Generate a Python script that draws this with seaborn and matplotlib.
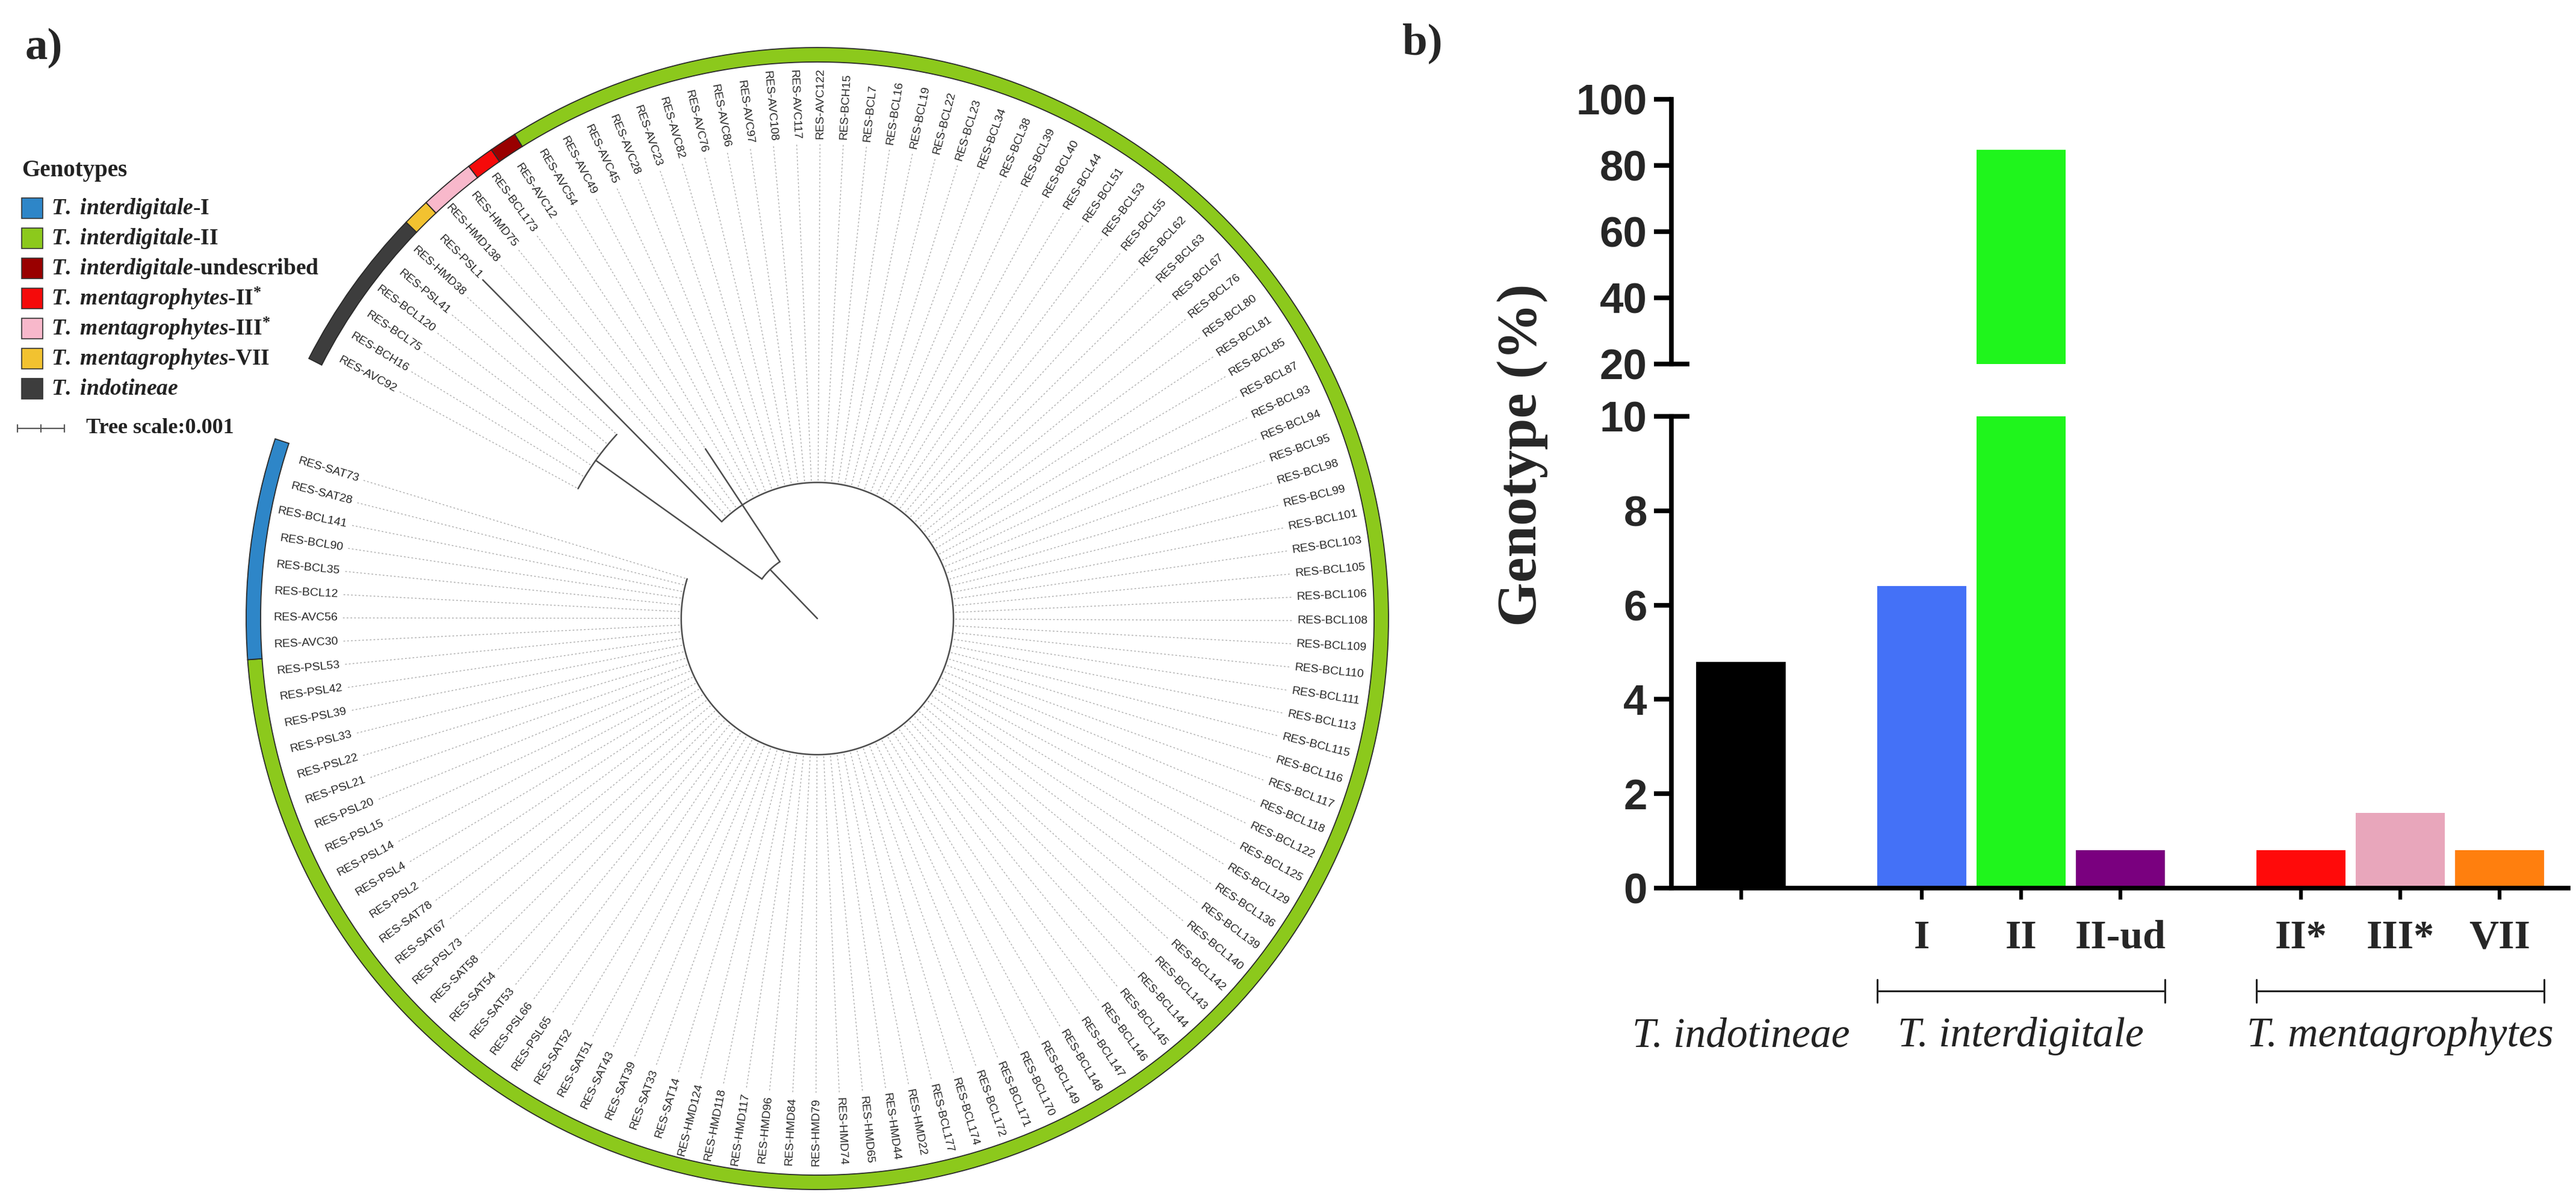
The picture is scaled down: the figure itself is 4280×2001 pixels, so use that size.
import numpy as np
import pandas as pd
import seaborn as sns
import matplotlib.pyplot as plt
from matplotlib.patches import Rectangle

# ---------------- data: tree leaves (clockwise from the gap at upper left) ----------------
indotineae_leaves = ['RES-AVC92', 'RES-BCH16', 'RES-BCL75', 'RES-BCL120', 'RES-PSL41', 'RES-HMD38']
ment_vii_leaves = ['RES-PSL1']
ment_iii_leaves = ['RES-HMD138', 'RES-HMD75']
ment_ii_leaves = ['RES-BCL173']
inter_ud_leaves = ['RES-AVC12']
inter_ii_leaves = [
    'RES-AVC54', 'RES-AVC49', 'RES-AVC45', 'RES-AVC28', 'RES-AVC23', 'RES-AVC82', 'RES-AVC76',
    'RES-AVC86', 'RES-AVC97', 'RES-AVC108', 'RES-AVC117', 'RES-AVC122', 'RES-BCH15', 'RES-BCL7',
    'RES-BCL16', 'RES-BCL19', 'RES-BCL22', 'RES-BCL23', 'RES-BCL34', 'RES-BCL38', 'RES-BCL39',
    'RES-BCL40', 'RES-BCL44', 'RES-BCL51', 'RES-BCL53', 'RES-BCL55', 'RES-BCL62', 'RES-BCL63',
    'RES-BCL67', 'RES-BCL76', 'RES-BCL80', 'RES-BCL81', 'RES-BCL85', 'RES-BCL87', 'RES-BCL93',
    'RES-BCL94', 'RES-BCL95', 'RES-BCL98', 'RES-BCL99', 'RES-BCL101', 'RES-BCL103', 'RES-BCL105',
    'RES-BCL106', 'RES-BCL108', 'RES-BCL109', 'RES-BCL110', 'RES-BCL111', 'RES-BCL113', 'RES-BCL115',
    'RES-BCL116', 'RES-BCL117', 'RES-BCL118', 'RES-BCL122', 'RES-BCL125', 'RES-BCL129', 'RES-BCL136',
    'RES-BCL139', 'RES-BCL140', 'RES-BCL142', 'RES-BCL143', 'RES-BCL144', 'RES-BCL145', 'RES-BCL146',
    'RES-BCL147', 'RES-BCL148', 'RES-BCL149', 'RES-BCL170', 'RES-BCL171', 'RES-BCL172', 'RES-BCL174',
    'RES-BCL177', 'RES-HMD22', 'RES-HMD44', 'RES-HMD65', 'RES-HMD74', 'RES-HMD79', 'RES-HMD84',
    'RES-HMD96', 'RES-HMD117', 'RES-HMD118', 'RES-HMD124', 'RES-SAT14', 'RES-SAT33', 'RES-SAT39',
    'RES-SAT43', 'RES-SAT51', 'RES-SAT52', 'RES-PSL65', 'RES-PSL66', 'RES-SAT53', 'RES-SAT54',
    'RES-SAT58', 'RES-PSL73', 'RES-SAT67', 'RES-SAT78', 'RES-PSL2', 'RES-PSL4', 'RES-PSL14',
    'RES-PSL15', 'RES-PSL20', 'RES-PSL21', 'RES-PSL22', 'RES-PSL33', 'RES-PSL39', 'RES-PSL42',
    'RES-PSL53']
inter_i_leaves = ['RES-AVC30', 'RES-AVC56', 'RES-BCL12', 'RES-BCL35', 'RES-BCL90', 'RES-BCL141',
                  'RES-SAT28', 'RES-SAT73']

# node depths (substitutions / site)
depth_A = 0.00145       # root -> first split
depth_C = 0.0029        # T. interdigitale + mentagrophytes node
depth_B = 0.0058        # T. indotineae node
depth_AVC12 = 0.00433   # undescribed leaf tip

# legend
legend_labels = [r'$T.\ interdigitale$-I', r'$T.\ interdigitale$-II', r'$T.\ interdigitale$-undescribed',
                 r'$T.\ mentagrophytes$-II$^{*}$', r'$T.\ mentagrophytes$-III$^{*}$',
                 r'$T.\ mentagrophytes$-VII', r'$T.\ indotineae$']
legend_colors = ['#2e86c8', '#8cc91c', '#990000', '#f50a0a', '#f8b8cb', '#f2c230', '#3d3d3d']

# ---------------- data: bar chart ----------------
bar_species = ['T. indotineae', 'T. interdigitale', 'T. interdigitale', 'T. interdigitale',
               'T. mentagrophytes', 'T. mentagrophytes', 'T. mentagrophytes']
bar_genotype = ['', 'I', 'II', 'II-ud', 'II*', 'III*', 'VII']
genotype_pct = [4.8, 6.4, 84.8, 0.8, 0.8, 1.6, 0.8]
bar_colors = ['#000000', '#4471f7', '#1ff51c', '#7a007f', '#ff0a0a', '#e8a6bb', '#ff7f0e']

# ---------------- style ----------------
sns.set_theme(style='white')
plt.rcParams['font.family'] = ['Liberation Sans', 'DejaVu Sans']
plt.rcParams['mathtext.fontset'] = 'custom'
plt.rcParams['mathtext.it'] = 'Liberation Serif:italic:bold'
plt.rcParams['mathtext.rm'] = 'Liberation Serif:bold'
plt.rcParams['mathtext.bf'] = 'Liberation Serif:bold'

W, H = 4280, 2001
fig = plt.figure(figsize=(W / 100, H / 100), dpi=100)
fig.patch.set_facecolor('white')


def fx(x):
    return x / W


def fy(y):
    return 1 - y / H


# ================= a) circular tree =================
cx, cy, R = 1358, 1028, 960
ax_t = fig.add_axes([fx(cx - R), fy(cy + R), 2 * R / W, 2 * R / H], projection='polar')
ax_t.set_ylim(0, R)
ax_t.axis('off')

groups = [(indotineae_leaves, legend_colors[6]), (ment_vii_leaves, legend_colors[5]),
          (ment_iii_leaves, legend_colors[4]), (ment_ii_leaves, legend_colors[3]),
          (inter_ud_leaves, legend_colors[2]), (inter_ii_leaves, legend_colors[1]),
          (inter_i_leaves, legend_colors[0])]
leaves = [l for g, _ in groups for l in g]
n = len(leaves)

theta0, step = 151.5, 2.81
ang = theta0 - step * np.arange(n)
px_per_unit = 78 / 0.001
r_lab = 797
r_ring, ring_w = 925, 24

r_A = depth_A * px_per_unit
r_B = depth_B * px_per_unit
r_C = depth_C * px_per_unit
r_12 = depth_AVC12 * px_per_unit

i_psl1 = leaves.index('RES-PSL1')
i_avc12 = leaves.index('RES-AVC12')
n_ind = len(indotineae_leaves)

tips = np.full(n, r_C)
tips[:n_ind] = r_B
tips[i_psl1] = r_lab - 6
tips[i_avc12] = r_12

# dotted alignment lines + labels
for i, (a, name) in enumerate(zip(ang, leaves)):
    th = np.radians(a)
    if tips[i] < r_lab - 10:
        ax_t.plot([th, th], [tips[i] + 3, r_lab - 6], color='#ababab', lw=1.0,
                  ls=(0, (2, 2.5)))
    na = (a + 180) % 360 - 180
    if -90 <= na <= 90:
        rot, ha = na, 'left'
    else:
        rot, ha = (na - 180 if na > 0 else na + 180), 'right'
    ax_t.text(th, r_lab, name, rotation=rot, rotation_mode='anchor', ha=ha, va='center',
              fontsize=14, color='#262626')

# branches
tc = '#4d4d4d'
lw_t = 1.8
th_B = np.mean(ang[:n_ind])
th_C = ang[i_avc12]
th_A = (th_B + th_C) / 2


def arc(a1, a2, r):
    t = np.radians(np.linspace(a1, a2, 400))
    ax_t.plot(t, np.full_like(t, r), color=tc, lw=lw_t)


def radial(a, r1, r2):
    ax_t.plot([np.radians(a)] * 2, [r1, r2], color=tc, lw=lw_t)


radial(th_A, 0, r_A)
arc(th_B, th_C, r_A)
radial(th_B, r_A, r_B)
arc(ang[0], ang[n_ind - 1], r_B)
radial(th_C, r_A, r_12)
arc(ang[i_psl1], ang[-1], r_C)
radial(ang[i_psl1], r_C, r_lab - 6)

# colour ring
k = 0
for g, c in groups:
    a_start = ang[k] + step / 2
    a_end = ang[k + len(g) - 1] - step / 2
    ax_t.bar(np.radians((a_start + a_end) / 2), ring_w, width=np.radians(a_start - a_end),
             bottom=r_ring, color=c, edgecolor='#2a2a2a', linewidth=1.3, align='center')
    k += len(g)

# legend
fig.text(fx(36), fy(283), 'Genotypes', fontsize=28, family='Liberation Serif', weight='bold',
         va='center', ha='left', color='#222222')
for j, (lab, c) in enumerate(zip(legend_labels, legend_colors)):
    yrow = 346 + 50 * j
    fig.add_artist(Rectangle((fx(36), fy(yrow + 17)), 35 / W, 34 / H, transform=fig.transFigure,
                             facecolor=c, edgecolor='#333333', lw=1.2))
    fig.text(fx(85), fy(yrow), lab, fontsize=27, family='Liberation Serif', weight='bold',
             va='center', ha='left', color='#222222')

# tree scale
ysc = 712
fig.add_artist(plt.Line2D([fx(29), fx(107)], [fy(ysc), fy(ysc)], transform=fig.transFigure,
                          color='#555555', lw=1.5))
for xt in (29, 68, 107):
    fig.add_artist(plt.Line2D([fx(xt), fx(xt)], [fy(ysc - 6), fy(ysc + 6)],
                              transform=fig.transFigure, color='#555555', lw=1.5))
fig.text(fx(143), fy(ysc), 'Tree scale:0.001', fontsize=26, family='Liberation Serif',
         weight='bold', va='center', ha='left', color='#222222')

fig.text(fx(42), fy(80), 'a)', fontsize=54, family='Liberation Serif', weight='bold',
         va='center', ha='left')
fig.text(fx(2330), fy(72), 'b)', fontsize=54, family='Liberation Serif', weight='bold',
         va='center', ha='left')

# ================= b) broken-axis bar chart =================
pos = []
p = 0.0
for i, sp in enumerate(bar_species):
    if i > 0:
        p += 1.0 if sp == bar_species[i - 1] else 1.82
    pos.append(p)
keys = [s + ' ' + g for s, g in zip(bar_species, bar_genotype)]
df = pd.DataFrame({'pos': pos, 'pct': genotype_pct, 'key': keys})
pal = dict(zip(keys, bar_colors))

ax_lo = fig.add_axes([fx(2777), fy(1476), 1490 / W, 784 / H])
ax_hi = fig.add_axes([fx(2777), fy(605), 1490 / W, 440 / H])

for ax in (ax_lo, ax_hi):
    sns.barplot(data=df, x='pos', y='pct', hue='key', palette=pal, native_scale=True,
                width=0.9, dodge=False, saturation=1, legend=False, errorbar=None,
                linewidth=0, ax=ax)
    ax.set_xlim(-0.70, pos[-1] + 0.69)
    ax.set_xlabel('')
    ax.set_ylabel('')
    ax.set_facecolor('none')
    for s in ('top', 'right'):
        ax.spines[s].set_visible(False)
    ax.spines['left'].set_linewidth(5.5)
    ax.spines['left'].set_color('black')
    ax.tick_params(axis='y', direction='out', length=21, width=5.5, pad=8, labelsize=51,
                   color='black', left=True)

ax_lo.set_ylim(0, 10)
ax_lo.set_yticks([0, 2, 4, 6, 8, 10])
ax_hi.set_ylim(20, 100)
ax_hi.set_yticks([20, 40, 60, 80, 100])
ax_hi.spines['bottom'].set_visible(False)
ax_hi.set_xticks([])
for ax in (ax_lo, ax_hi):
    for t in ax.get_yticklabels():
        t.set_fontweight('bold')
        t.set_fontsize(51)

ax_lo.spines['bottom'].set_linewidth(5.5)
ax_lo.spines['bottom'].set_color('black')
ax_lo.set_xticks(pos)
ax_lo.set_xticklabels(bar_genotype)
ax_lo.tick_params(axis='x', direction='out', length=14, width=4.5, pad=24, bottom=True,
                  color='black')
for t in ax_lo.get_xticklabels():
    t.set_family('Liberation Serif')
    t.set_fontweight('bold')
    t.set_fontsize(49)

# axis break marks
ax_hi.plot([0, 0.02], [20, 20], transform=ax_hi.get_yaxis_transform(), color='black', lw=5.5,
           clip_on=False, solid_capstyle='butt')
ax_lo.plot([0, 0.02], [10, 10], transform=ax_lo.get_yaxis_transform(), color='black', lw=5.5,
           clip_on=False, solid_capstyle='butt')

# species brackets and names
trans = ax_lo.get_xaxis_transform()
for sp in dict.fromkeys(bar_species):
    xs = [q for q, s in zip(pos, bar_species) if s == sp]
    if len(xs) > 1:
        x0, x1 = min(xs) - 0.45, max(xs) + 0.45
        ax_lo.plot([x0, x1], [-0.218, -0.218], transform=trans, color='#222222', lw=2.2,
                   clip_on=False)
        for xe in (x0, x1):
            ax_lo.plot([xe, xe], [-0.194, -0.242], transform=trans, color='#222222', lw=2.2,
                       clip_on=False)
    ax_lo.text(np.mean(xs), -0.336, sp, transform=trans, ha='center', va='baseline',
               family='Liberation Serif', style='italic', fontsize=50, color='#222222')

fig.text(fx(2530), fy(756), 'Genotype (%)', rotation=90, ha='center', va='center',
         family='Liberation Serif', weight='bold', fontsize=68)

fig.savefig('out.png', dpi=100)
